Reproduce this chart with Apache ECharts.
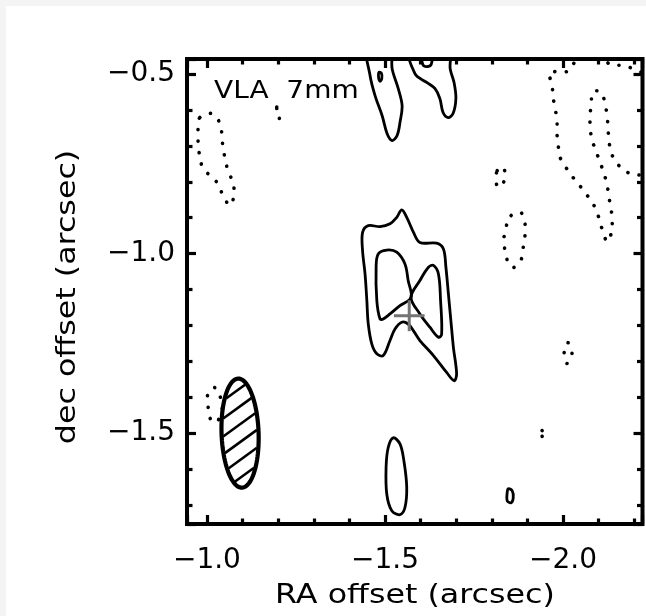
<!DOCTYPE html>
<html>
<head>
<meta charset="utf-8">
<script src="https://cdn.jsdelivr.net/npm/echarts@6/dist/echarts.min.js"></script>
<style>
  html, body { margin: 0; padding: 0; width: 646px; height: 616px; overflow: hidden; background: #f4f4f4; }
  #chart { position: absolute; left: 6px; top: 6px; width: 640px; height: 610px; background: #fff; }
</style>
</head>
<body>
<div id="chart"></div>
<script>
// ---- map extent (arcsec offsets) and tick labels ----
const raRange = [-2.223, -0.944];
const decRange = [-1.753, -0.458];
const raTickLabels = [-1.0, -1.5, -2.0];
const decTickLabels = [-0.5, -1.0, -1.5];

// ---- source position and synthesized beam ----
const sourcePos = [-1.568, -1.173];
const beamCenter = [-1.093, -1.500];
const beamSemiAxes = [0.152, 0.052];   // semi-major, semi-minor (arcsec)
const beamPA = 2;                       // degrees east of north

// ---- positive contours [RA, Dec] ----
const northFingerW = [[-1.450,-0.42],[-1.458,-0.504],[-1.472,-0.560],[-1.492,-0.616],[-1.506,-0.666],[-1.520,-0.685],[-1.534,-0.671],[-1.542,-0.635],[-1.548,-0.588],[-1.537,-0.540],[-1.520,-0.485],[-1.514,-0.42]];
const northSpeck = [[-1.483,-0.495],[-1.490,-0.498],[-1.491,-0.512],[-1.486,-0.520],[-1.482,-0.510]];
const northFingerE = [[-1.568,-0.42],[-1.584,-0.499],[-1.618,-0.524],[-1.640,-0.540],[-1.654,-0.568],[-1.663,-0.607],[-1.677,-0.621],[-1.691,-0.610],[-1.699,-0.568],[-1.694,-0.524],[-1.683,-0.485],[-1.679,-0.42]];
const northCap = [[-1.600,-0.42],[-1.606,-0.473],[-1.618,-0.479],[-1.630,-0.472],[-1.634,-0.42]];
const coreOuter = [[-1.547,-0.878],[-1.561,-0.899],[-1.580,-0.941],[-1.598,-0.969],[-1.645,-0.971],[-1.664,-0.987],[-1.671,-1.038],[-1.678,-1.112],[-1.685,-1.187],[-1.692,-1.261],[-1.701,-1.335],[-1.694,-1.354],[-1.673,-1.331],[-1.636,-1.284],[-1.598,-1.242],[-1.580,-1.215],[-1.565,-1.196],[-1.547,-1.191],[-1.528,-1.210],[-1.514,-1.242],[-1.495,-1.284],[-1.477,-1.279],[-1.463,-1.252],[-1.453,-1.196],[-1.449,-1.131],[-1.444,-1.057],[-1.437,-0.992],[-1.437,-0.941],[-1.453,-0.922],[-1.486,-0.925],[-1.514,-0.917],[-1.533,-0.899]];
const coreInnerW = [[-1.486,-1.182],[-1.477,-1.131],[-1.475,-1.038],[-1.481,-1.001],[-1.505,-0.990],[-1.533,-0.996],[-1.556,-1.029],[-1.565,-1.075],[-1.573,-1.122],[-1.542,-1.145],[-1.514,-1.168],[-1.495,-1.182]];
const coreInnerE = [[-1.573,-1.122],[-1.598,-1.168],[-1.626,-1.205],[-1.650,-1.233],[-1.659,-1.224],[-1.656,-1.131],[-1.650,-1.057],[-1.636,-1.033],[-1.622,-1.038],[-1.598,-1.075]];
const southKnot = [[-1.523,-1.513],[-1.509,-1.540],[-1.503,-1.595],[-1.505,-1.670],[-1.519,-1.716],[-1.542,-1.727],[-1.556,-1.707],[-1.561,-1.651],[-1.553,-1.577],[-1.542,-1.530]];
const southSpeck = [[-1.846,-1.655],[-1.857,-1.660],[-1.860,-1.680],[-1.854,-1.694],[-1.843,-1.688],[-1.843,-1.666]];

// ---- negative contours [RA, Dec] ----
const negWest = [[-0.980,-0.621],[-1.014,-0.610],[-1.037,-0.638],[-1.042,-0.671],[-1.045,-0.705],[-1.051,-0.735],[-1.059,-0.769],[-1.073,-0.802],[-1.076,-0.836],[-1.065,-0.866],[-1.045,-0.838],[-1.031,-0.805],[-1.008,-0.783],[-0.986,-0.755],[-0.978,-0.719],[-0.975,-0.685],[-0.975,-0.652]];
const negWestSpeck = [[-1.196,-0.592],[-1.202,-0.605],[-1.203,-0.625],[-1.199,-0.612]];
const negEastArc = [[-2.042,-0.440],[-2.017,-0.490],[-1.983,-0.493],[-1.961,-0.496],[-1.969,-0.529],[-1.972,-0.565],[-1.978,-0.596],[-1.983,-0.632],[-1.983,-0.666],[-1.986,-0.696],[-1.992,-0.733],[-2.008,-0.760],[-2.028,-0.788],[-2.051,-0.816],[-2.070,-0.841],[-2.090,-0.872],[-2.101,-0.902],[-2.110,-0.933],[-2.124,-0.967],[-2.135,-0.944],[-2.138,-0.911],[-2.135,-0.877],[-2.129,-0.844],[-2.124,-0.811],[-2.115,-0.777],[-2.104,-0.746],[-2.093,-0.716],[-2.081,-0.682],[-2.076,-0.649],[-2.076,-0.616],[-2.079,-0.582],[-2.084,-0.549],[-2.107,-0.551],[-2.118,-0.585],[-2.124,-0.618],[-2.126,-0.649],[-2.129,-0.685],[-2.135,-0.719],[-2.152,-0.749],[-2.177,-0.772],[-2.208,-0.780],[-2.245,-0.786]];
const negEastEdge = [[-2.104,-0.445],[-2.132,-0.473],[-2.166,-0.476],[-2.197,-0.485],[-2.245,-0.507]];
const negSpotN = [[-1.815,-0.769],[-1.831,-0.758],[-1.837,-0.791],[-1.820,-0.816],[-1.812,-0.802]];
const negOval = [[-1.854,-0.894],[-1.882,-0.886],[-1.893,-0.916],[-1.893,-0.950],[-1.888,-0.983],[-1.882,-1.017],[-1.860,-1.039],[-1.846,-1.025],[-1.837,-0.992],[-1.834,-0.958],[-1.840,-0.925]];
const negSpotE = [[-2.014,-1.248],[-2.025,-1.279],[-2.011,-1.306],[-2.003,-1.276]];
const negSpotS = [[-1.941,-1.493],[-1.947,-1.500],[-1.946,-1.515],[-1.941,-1.508]];
const negBeamSide = [[-1.022,-1.373],[-1.003,-1.390],[-1.003,-1.421],[-1.008,-1.457],[-1.025,-1.471],[-1.042,-1.437],[-1.039,-1.404]];

const positiveLevels = [northFingerW, northSpeck, northFingerE, northCap, coreOuter, coreInnerW, coreInnerE, southKnot, southSpeck];
const negativeLevels = [negWest, negWestSpeck, negEastArc, negEastEdge, negSpotN, negOval, negSpotE, negSpotS, negBeamSide];
const openPaths = [negEastArc, negEastEdge];

const FONT = '"DejaVu Sans", sans-serif';

function fmtTick(v, list) {
  if (!list.some(l => Math.abs(l - v) < 1e-6)) return '';
  return (v < 0 ? '\u2212' : '') + Math.abs(v).toFixed(1);
}

function frameAxis(kind, pos, withLabels) {
  const isRA = kind === 'ra';
  return {
    type: 'value',
    position: pos,
    gridIndex: 0,
    min: isRA ? raRange[0] : decRange[0],
    max: isRA ? raRange[1] : decRange[1],
    inverse: isRA,
    splitNumber: 3,
    minInterval: 0.5,
    maxInterval: 0.5,
    axisLine: { show: false },
    splitLine: { show: false },
    axisTick: { show: true, inside: true, length: 9, lineStyle: { color: '#000', width: 3.2 } },
    minorTick: { show: true, splitNumber: 5, length: 5.5, lineStyle: { color: '#000', width: 3.2 } },
    axisLabel: {
      show: withLabels,
      color: '#000',
      fontSize: 28,
      fontFamily: FONT,
      margin: isRA ? 23 : 12,
      padding: isRA ? 0 : [6, 0, 0, 0],
      showMinLabel: false,
      showMaxLabel: false,
      formatter: v => fmtTick(v, isRA ? raTickLabels : decTickLabels)
    }
  };
}

function contourSeries(levels, dotted) {
  return {
    type: 'custom',
    coordinateSystem: 'cartesian2d',
    xAxisIndex: 0,
    yAxisIndex: 0,
    clip: true,
    silent: true,
    z: 3,
    data: levels.map((_, i) => [i]),
    renderItem: (params, api) => {
      const path = levels[params.dataIndex];
      const pts = path.map(p => api.coord(p));
      const open = openPaths.includes(path);
      return {
        type: open ? 'polyline' : 'polygon',
        shape: { points: pts, smooth: 0.35 },
        style: dotted
          ? { fill: 'none', stroke: '#000', lineWidth: 3.6, lineDash: [0.1, 11.5], lineCap: 'round' }
          : { fill: 'none', stroke: '#000', lineWidth: 2.8, lineJoin: 'round' }
      };
    }
  };
}

const crossSeries = {
  type: 'custom',
  coordinateSystem: 'cartesian2d',
  clip: true,
  silent: true,
  z: 4,
  data: [sourcePos],
  renderItem: (params, api) => {
    const ra = api.value(0), dec = api.value(1);
    const arm = 0.043;
    const l = api.coord([ra + arm, dec]), r = api.coord([ra - arm, dec]);
    const t = api.coord([ra, dec + arm]), b = api.coord([ra, dec - arm]);
    const style = { stroke: '#747474', lineWidth: 3 };
    return {
      type: 'group',
      children: [
        { type: 'line', shape: { x1: l[0], y1: l[1], x2: r[0], y2: r[1] }, style },
        { type: 'line', shape: { x1: t[0], y1: t[1], x2: b[0], y2: b[1] }, style }
      ]
    };
  }
};

const beamSeries = {
  type: 'custom',
  coordinateSystem: 'cartesian2d',
  clip: true,
  silent: true,
  z: 5,
  data: [beamCenter],
  renderItem: (params, api) => {
    const c = api.coord([api.value(0), api.value(1)]);
    const sz = api.size([beamSemiAxes[1], beamSemiAxes[0]]);
    const A = sz[0], B = sz[1];               // pixel semi-axes (x minor, y major)
    const phi = -beamPA * Math.PI / 180;      // screen rotation
    const cp = Math.cos(phi), sp = Math.sin(phi);
    const ring = [];
    for (let k = 0; k < 96; k++) {
      const t = k / 96 * Math.PI * 2;
      const lx = A * Math.cos(t), ly = B * Math.sin(t);
      ring.push([c[0] + lx * cp - ly * sp, c[1] + lx * sp + ly * cp]);
    }
    // hatch lines "/" clipped analytically to the ellipse
    const th = 36 * Math.PI / 180;
    const d = [Math.cos(th), -Math.sin(th)];
    const n = [Math.sin(th), Math.cos(th)];
    const toLocal = v => [v[0] * cp + v[1] * sp, -v[0] * sp + v[1] * cp];
    const dl = toLocal(d), nl = toLocal(n);
    const Ai = A - 1.5, Bi = B - 1.5;
    const A2 = Ai * Ai, B2 = Bi * Bi;
    const gap = 14.5;
    const hatch = [];
    for (let k = -6; k <= 6; k++) {
      const s = (k + 0.5) * gap;
      const qa = dl[0] * dl[0] / A2 + dl[1] * dl[1] / B2;
      const qb = 2 * (s * nl[0] * dl[0] / A2 + s * nl[1] * dl[1] / B2);
      const qc = (s * nl[0]) * (s * nl[0]) / A2 + (s * nl[1]) * (s * nl[1]) / B2 - 1;
      const disc = qb * qb - 4 * qa * qc;
      if (disc <= 0) continue;
      const sq = Math.sqrt(disc);
      const t1 = (-qb - sq) / (2 * qa), t2 = (-qb + sq) / (2 * qa);
      hatch.push({
        type: 'line',
        shape: {
          x1: c[0] + s * n[0] + t1 * d[0], y1: c[1] + s * n[1] + t1 * d[1],
          x2: c[0] + s * n[0] + t2 * d[0], y2: c[1] + s * n[1] + t2 * d[1]
        },
        style: { stroke: '#000', lineWidth: 2.6 }
      });
    }
    return {
      type: 'group',
      children: [
        { type: 'polygon', shape: { points: ring }, style: { fill: '#fff', stroke: null } },
        ...hatch,
        { type: 'polygon', shape: { points: ring }, style: { fill: 'none', stroke: '#000', lineWidth: 4.2 } }
      ]
    };
  }
};

const chart = echarts.init(document.getElementById('chart'), null, { renderer: 'canvas' });
chart.setOption({
  animation: false,
  backgroundColor: '#fff',
  grid: {
    left: 181, right: 3.5, top: 53, bottom: 92,
    show: true, borderColor: '#000', borderWidth: 4, backgroundColor: 'transparent'
  },
  xAxis: [frameAxis('ra', 'bottom', true), frameAxis('ra', 'top', false)],
  yAxis: [frameAxis('dec', 'left', true), frameAxis('dec', 'right', false)],
  graphic: [
    {
      type: 'text', x: 208, y: 85, scaleX: 1.12, silent: true,
      style: { text: 'VLA  7mm', font: '25px ' + FONT, fill: '#000',
               align: 'left', verticalAlign: 'middle', textAlign: 'left', textVerticalAlign: 'middle' }
    },
    {
      type: 'text', x: 409, y: 590.5, scaleX: 1.22, silent: true,
      style: { text: 'RA offset (arcsec)', font: '26px ' + FONT, fill: '#000',
               align: 'center', verticalAlign: 'middle', textAlign: 'center', textVerticalAlign: 'middle' }
    },
    {
      type: 'text', x: 62.5, y: 291, rotation: Math.PI / 2, scaleX: 1.22, silent: true,
      style: { text: 'dec offset (arcsec)', font: '26px ' + FONT, fill: '#000',
               align: 'center', verticalAlign: 'middle', textAlign: 'center', textVerticalAlign: 'middle' }
    }
  ],
  series: [
    contourSeries(positiveLevels, false),
    contourSeries(negativeLevels, true),
    crossSeries,
    beamSeries
  ]
});
</script>
</body>
</html>
